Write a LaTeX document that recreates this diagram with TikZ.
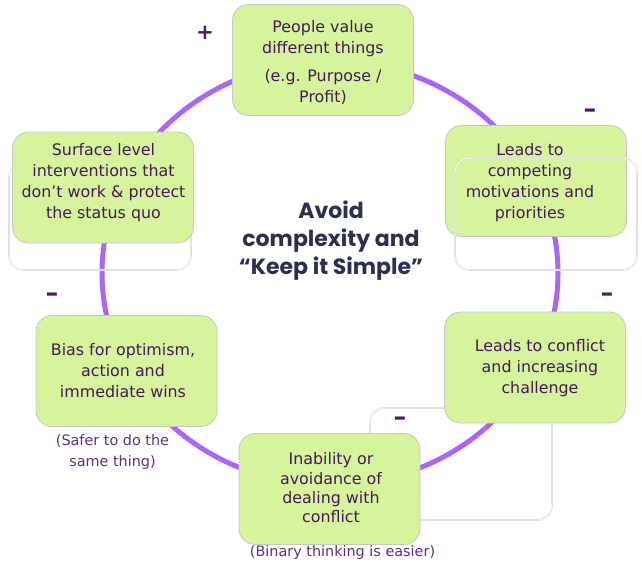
\documentclass[tikz,border=0pt]{standalone}
\usepackage{fontspec}
\setmainfont{DejaVu Sans}
\newfontfamily\ctrfont{Poppins}
\definecolor{boxgreen}{HTML}{D5F49C}
\definecolor{txtpurple}{HTML}{45195A}
\definecolor{cappurple}{HTML}{5E2F7E}
\definecolor{ringviolet}{HTML}{A866FF}
\definecolor{ctrnavy}{HTML}{2C2E52}
\definecolor{signpurple}{HTML}{4B1C5E}
\tikzset{
  box/.style={draw=black!22, line width=0.6pt, fill=boxgreen, rounded corners=12pt,
    minimum width=135.75pt, minimum height=83.25pt, inner sep=0pt},
  txt/.style={text=txtpurple, font=\fontsize{11.9}{15.75}\selectfont, align=center, inner sep=0pt},
  captxt/.style={text=cappurple, font=\fontsize{10.8}{15.75}\selectfont, align=center, inner sep=0pt},
  ghost/.style={draw=black!18, double=white, double distance=0.7pt, line width=0.35pt, rounded corners=11pt},
  signtxt/.style={text=signpurple, font=\bfseries\fontsize{16}{16}\selectfont, inner sep=0pt},
  ring/.style={draw=ringviolet, line width=3.75pt},
  ctrtxt/.style={text=ctrnavy, font=\ctrfont\bfseries\fontsize{16.5}{21}\selectfont, align=center, inner sep=0pt}
}
\begin{document}
\begin{tikzpicture}[x=0.75pt,y=-0.75pt]
\useasboundingbox (0,0) rectangle (642,565);
% ring
\coordinate (ringc) at (330,273);
\draw[ring] (ringc) ellipse [x radius=171pt, y radius=159pt];
% ghost outlines behind
\draw[ghost] (9,163) rectangle (191,270);
\draw[ghost] (370,408) rectangle (552,520);
% boxes
\node[box] (top) at (323,60) {};
\node[box] (comp) at (536,181) {};
\node[box] (surf) at (103,187.5) {};
\node[box] (confl) at (535,367.5) {};
\node[box] (inab) at (329.5,489) {};
\node[box] (bias) at (126.5,371) {};
% ghost outline in front
\draw[ghost] (455,158) rectangle (637,270);
% texts
\node[txt] (topt) at (323,62.5) {People value\\different things\\[5pt](e.g. Purpose /\\Profit)};
\node[txt] (compt) at (530,182.5) {Leads to\\competing\\motivations and\\priorities};
\node[txt] (surft) at (103.5,182.5) {Surface level\\interventions that\\don’t work \& protect\\the status quo};
\node[txt] (conflt) at (540,368) {Leads to conflict\\and increasing\\challenge};
\node[txt, font=\fontsize{11.9}{14.5}\selectfont] (inabt) at (331,488) {Inability or\\avoidance of\\dealing with\\conflict};
\node[txt] (biast) at (123,371) {Bias for optimism,\\action and\\immediate wins};
% captions
\node[captxt] (biascap) at (112.5,452.5) {(Safer to do the\\same thing)};
\node[captxt] (inabcap) at (342.5,553) {(Binary thinking is easier)};
% centre
\node[ctrtxt] (centre) at (331,241) {Avoid\\complexity and\\“Keep it Simple”};
% signs
\node[signtxt] (plus) at (205,33) {+};
\node[signtxt, font=\bfseries\fontsize{19}{19}\selectfont] (m1) at (590,113) {–};
\node[signtxt, font=\bfseries\fontsize{19}{19}\selectfont] (m2) at (52,297) {–};
\node[signtxt, font=\bfseries\fontsize{19}{19}\selectfont] (m3) at (607,297) {–};
\node[signtxt, font=\bfseries\fontsize{19}{19}\selectfont] (m4) at (400,421) {–};
\end{tikzpicture}
\end{document}
